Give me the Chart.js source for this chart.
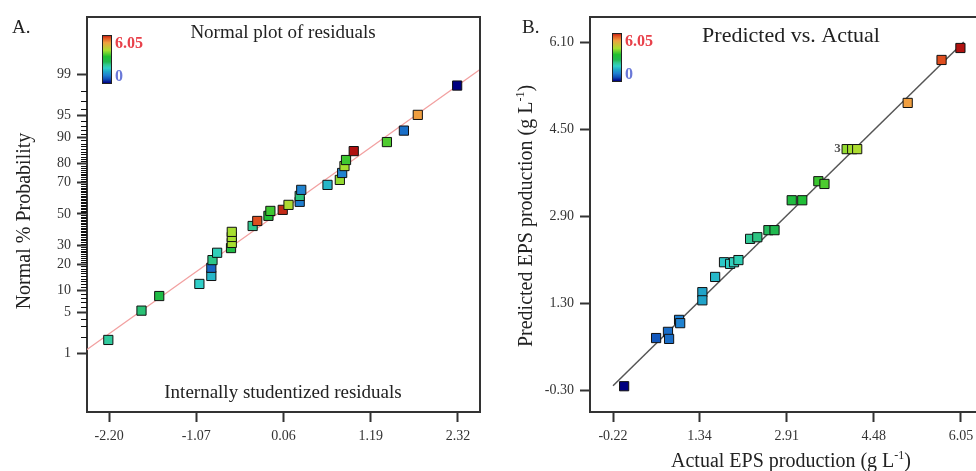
<!DOCTYPE html>
<html>
<head>
<meta charset="utf-8">
<script src="https://cdn.jsdelivr.net/npm/chart.js@4.4.1/dist/chart.umd.min.js"></script>
<style>
  html, body { margin: 0; padding: 0; background: #fff; overflow: hidden; }
  #wrap { position: relative; width: 976px; height: 471px; overflow: hidden; }
  canvas { position: absolute; top: 0; }
  #resid { left: 0; }
  #pva { left: 488px; }
</style>
</head>
<body>
<div id="wrap">
  <canvas id="resid" width="488" height="471"></canvas>
  <canvas id="pva" width="504" height="471"></canvas>
</div>
<script>
// A. normal plot of residuals
const residX    = [-2.21, -1.78, -1.55, -1.03, -0.875, -0.875, -0.86, -0.80, -0.62, -0.61, -0.61, -0.61, -0.34, -0.28, -0.135, -0.11, 0.05, 0.125, 0.27, 0.27, 0.29, 0.63, 0.79, 0.82, 0.85, 0.87, 0.97, 1.40, 1.62, 1.80, 2.31];
const residProb = [1.76, 5.3, 8.5, 12.1, 15.0, 18.4, 22.0, 25.8, 28.4, 31.4, 35.0, 38.2, 42.0, 45.3, 48.7, 52.0, 52.7, 56.0, 58.0, 61.8, 65.6, 68.6, 71.5, 75.3, 78.8, 81.6, 85.3, 88.5, 91.8, 95.1, 98.4];
const residEps  = [2.2, 2.45, 2.9, 1.85, 1.6, 0.7, 2.35, 2.0, 2.9, 4.1, 4.1, 4.1, 2.3, 5.7, 3.2, 3.5, 5.9, 4.2, 0.95, 2.4, 1.0, 1.6, 4.0, 1.0, 4.1, 3.5, 6.05, 3.6, 0.8, 5.1, 0.0];
const residTicks = [-2.20, -1.07, 0.06, 1.19, 2.32];
const probTicks = [1, 5, 10, 20, 30, 50, 70, 80, 90, 95, 99];
const residLineX = [-2.49, 2.61];
const residLineProb = [1.16, 99.22];

// B. predicted vs. actual
const actual    = [-0.02, 0.556, 0.77, 0.79, 0.97, 0.99, 1.39, 1.39, 1.62, 1.78, 1.89, 1.96, 2.04, 2.25, 2.38, 2.58, 2.69, 3.00, 3.19, 3.48, 3.59, 3.99, 4.09, 4.18, 5.09, 5.70, 6.04];
const predicted = [-0.23, 0.656, 0.77, 0.64, 0.99, 0.93, 1.50, 1.35, 1.78, 2.05, 2.02, 2.05, 2.09, 2.48, 2.51, 2.64, 2.64, 3.19, 3.19, 3.54, 3.49, 4.13, 4.13, 4.13, 4.98, 5.77, 5.99];
const actualTicks = [-0.22, 1.34, 2.91, 4.48, 6.05];
const predTicks = [-0.30, 1.30, 2.90, 4.50, 6.10];
const fitLine = [-0.22, 6.10];

const epsMax = 6.05;
const serif = '"Liberation Serif", "DejaVu Serif", serif';

// inverse normal cdf, used as the probability axis transform
function probit(p) {
  const a = [-39.6968302866538, 220.946098424521, -275.928510446969, 138.357751867269, -30.6647980661472, 2.50662827745924];
  const b = [-54.4760987982241, 161.585836858041, -155.698979859887, 66.8013118877197, -13.2806815528857];
  const c = [-0.00778489400243029, -0.322396458041136, -2.40075827716184, -2.54973253934373, 4.37466414146497, 2.93816398269878];
  const d = [0.00778469570904146, 0.32246712907004, 2.445134137143, 3.75440866190742];
  const lo = 0.02425;
  let q, r;
  if (p < lo) {
    q = Math.sqrt(-2 * Math.log(p));
    return (((((c[0]*q+c[1])*q+c[2])*q+c[3])*q+c[4])*q+c[5]) / ((((d[0]*q+d[1])*q+d[2])*q+d[3])*q+1);
  }
  if (p > 1 - lo) {
    q = Math.sqrt(-2 * Math.log(1 - p));
    return -(((((c[0]*q+c[1])*q+c[2])*q+c[3])*q+c[4])*q+c[5]) / ((((d[0]*q+d[1])*q+d[2])*q+d[3])*q+1);
  }
  q = p - 0.5; r = q * q;
  return (((((a[0]*r+a[1])*r+a[2])*r+a[3])*r+a[4])*r+a[5])*q / (((((b[0]*r+b[1])*r+b[2])*r+b[3])*r+b[4])*r+1);
}

const cmap = [
  [0, [0, 0, 128]], [0.08, [16, 80, 184]], [0.16, [32, 128, 208]], [0.24, [32, 168, 200]],
  [0.31, [48, 208, 200]], [0.38, [48, 200, 144]], [0.44, [32, 184, 80]], [0.55, [32, 192, 48]],
  [0.68, [168, 224, 48]], [0.84, [240, 160, 64]], [0.94, [224, 80, 32]], [1, [176, 16, 16]]
];
function epsColor(v) {
  let t = Math.max(0, Math.min(1, v / epsMax));
  for (let i = 1; i < cmap.length; i++) {
    if (t <= cmap[i][0]) {
      const [t0, c0] = cmap[i - 1], [t1, c1] = cmap[i];
      const f = (t - t0) / (t1 - t0);
      const c = c0.map((x, k) => Math.round(x + (c1[k] - x) * f));
      return `rgb(${c[0]}, ${c[1]}, ${c[2]})`;
    }
  }
  return 'rgb(176,16,16)';
}

// text with an optional small raised part, centred on (x, y)
function richText(ctx, parts, x, y, size, rotate) {
  const big = size + 'px ' + serif, small = Math.round(size * 0.62) + 'px ' + serif;
  let total = 0;
  parts.forEach(p => { ctx.font = p.sup ? small : big; p.w = ctx.measureText(p.t).width; total += p.w; });
  ctx.save();
  ctx.translate(x, y);
  if (rotate) ctx.rotate(-Math.PI / 2);
  ctx.textAlign = 'left';
  ctx.textBaseline = 'middle';
  let cx = -total / 2;
  parts.forEach(p => {
    ctx.font = p.sup ? small : big;
    ctx.fillText(p.t, cx, p.sup ? -size * 0.32 : 0);
    cx += p.w;
  });
  ctx.restore();
}

// box, panel texts, axis titles, colour bar, minor ticks
const frame = {
  id: 'frame',
  afterDraw(chart, args, o) {
    const ctx = chart.ctx;
    const a = chart.chartArea;
    ctx.save();
    ctx.strokeStyle = '#333';
    ctx.lineWidth = 2;
    ctx.beginPath();
    ctx.moveTo(a.left, a.top);
    ctx.lineTo(a.right, a.top);
    ctx.lineTo(a.right, a.bottom);
    ctx.stroke();

    if (o.minor) {
      const ys = chart.scales.y;
      ctx.lineWidth = 1;
      ctx.strokeStyle = '#111';
      for (let p = 1; p <= 99; p++) {
        if (probTicks.includes(p)) continue;
        const y = Math.round(ys.getPixelForValue(probit(p / 100))) + 0.5;
        ctx.beginPath();
        ctx.moveTo(a.left - 6, y);
        ctx.lineTo(a.left, y);
        ctx.stroke();
      }
    }

    ctx.fillStyle = '#222';
    ctx.textBaseline = 'middle';
    ctx.font = '19px ' + serif;
    ctx.textAlign = 'left';
    ctx.fillText(o.panel, o.panelX, 28);
    ctx.textAlign = 'center';
    ctx.font = o.titleSize + 'px ' + serif;
    ctx.fillText(o.title, o.titleX, o.titleY);
    if (o.bottomText) {
      ctx.font = '19px ' + serif;
      ctx.fillText(o.bottomText, o.titleX, 393);
    }
    if (o.yTitle) richText(ctx, o.yTitle, o.yTitleX, o.yTitleY, 20, true);
    if (o.xTitle) richText(ctx, o.xTitle, o.titleX, 462, 20, false);

    // colour bar
    const g = ctx.createLinearGradient(0, o.barY, 0, o.barY + 48);
    cmap.slice().reverse().forEach(s => g.addColorStop(1 - s[0], `rgb(${s[1].join(',')})`));
    ctx.fillStyle = g;
    ctx.fillRect(o.barX, o.barY, 9, 48);
    ctx.lineWidth = 1;
    ctx.strokeStyle = '#222';
    ctx.strokeRect(o.barX + 0.5, o.barY + 0.5, 9, 48);
    ctx.textAlign = 'left';
    ctx.font = 'bold 16px ' + serif;
    ctx.fillStyle = '#e8404a';
    ctx.fillText(epsMax.toFixed(2), o.barX + 13, o.barY + 9);
    ctx.fillStyle = '#6a78d8';
    ctx.fillText('0', o.barX + 13, o.barY + 42);

    if (o.countAt !== undefined) {
      const pt = chart.getDatasetMeta(0).data[o.countAt];
      ctx.font = 'bold 13px ' + serif;
      ctx.fillStyle = '#555';
      ctx.textAlign = 'right';
      ctx.fillText('3', pt.x - 6, pt.y);
    }
    ctx.restore();
  }
};

function numAxis(min, max, ticks, size, extra) {
  return Object.assign({
    type: 'linear',
    min: min,
    max: max,
    afterBuildTicks: s => { s.ticks = ticks.map(v => ({ value: v })); },
    afterFit: s => { if (size.w) s.width = size.w; if (size.h) s.height = size.h; },
    grid: { drawOnChartArea: false, drawTicks: true, tickLength: 10, tickWidth: 2, tickColor: '#333' },
    border: { display: true, color: '#333', width: 2 },
    ticks: {
      autoSkip: false,
      maxRotation: 0,
      padding: 6,
      color: '#333',
      font: { family: serif, size: 14 },
      callback: v => v.toFixed(2)
    }
  }, extra);
}

const squares = {
  pointStyle: 'rect',
  pointRadius: 6.5,
  pointHoverRadius: 6.5,
  pointBorderColor: '#111',
  pointBorderWidth: 1
};

new Chart(document.getElementById('resid'), {
  type: 'scatter',
  data: {
    datasets: [
      Object.assign({
        data: residX.map((x, i) => ({ x: x, y: probit(residProb[i] / 100) })),
        pointBackgroundColor: residEps.map(epsColor)
      }, squares),
      {
        type: 'line',
        data: residLineX.map((x, i) => ({ x: x, y: probit(residLineProb[i] / 100) })),
        borderColor: '#f2a0a0',
        borderWidth: 1.2,
        pointRadius: 0
      }
    ]
  },
  options: {
    responsive: false,
    animation: false,
    layout: { padding: { top: 17, right: 8, left: 0, bottom: 0 } },
    plugins: {
      legend: { display: false },
      tooltip: { enabled: false },
      frame: {
        panel: 'A.', panelX: 12, title: 'Normal plot of residuals', titleSize: 19, titleX: 283, titleY: 33,
        bottomText: 'Internally studentized residuals', barX: 102, barY: 35, minor: true,
        yTitle: [{ t: 'Normal % Probability' }], yTitleX: 25, yTitleY: 221
      }
    },
    scales: {
      x: numAxis(-2.486, 2.606, residTicks, { h: 59 }),
      y: numAxis(-3.31, 3.29, [], { w: 87 }, {
        afterBuildTicks: s => { s.ticks = probTicks.map(p => ({ value: probit(p / 100) })); },
        ticks: {
          autoSkip: false, padding: 6, color: '#333',
          font: { family: serif, size: 14 },
          callback: (v, i) => probTicks[i]
        }
      })
    }
  },
  plugins: [frame]
});

new Chart(document.getElementById('pva'), {
  type: 'scatter',
  data: {
    datasets: [
      Object.assign({
        data: actual.map((x, i) => ({ x: x, y: predicted[i] })),
        pointBackgroundColor: actual.map(epsColor)
      }, squares),
      {
        type: 'line',
        data: fitLine.map(v => ({ x: v, y: v })),
        borderColor: '#555',
        borderWidth: 1.5,
        pointRadius: 0
      }
    ]
  },
  options: {
    responsive: false,
    animation: false,
    layout: { padding: { top: 17, right: 8, left: 0, bottom: 0 } },
    plugins: {
      legend: { display: false },
      tooltip: { enabled: false },
      frame: {
        panel: 'B.', panelX: 34, title: 'Predicted vs. Actual', titleSize: 22, titleX: 303, titleY: 36,
        barX: 124, barY: 33, countAt: 21,
        xTitle: [{ t: 'Actual EPS production (g L' }, { t: '-1', sup: true }, { t: ')' }],
        yTitle: [{ t: 'Predicted EPS production (g L' }, { t: '-1', sup: true }, { t: ')' }],
        yTitleX: 39, yTitleY: 216
      }
    },
    scales: {
      x: numAxis(-0.635, 6.465, actualTicks, { h: 59 }),
      y: numAxis(-0.704, 6.56, predTicks, { w: 102 })
    }
  },
  plugins: [frame]
});
</script>
</body>
</html>
